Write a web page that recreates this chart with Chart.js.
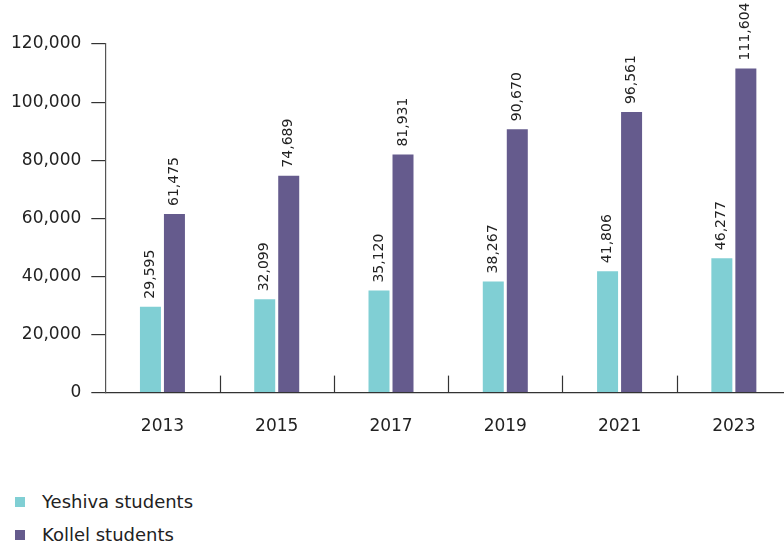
<!DOCTYPE html>
<html>
<head>
<meta charset="utf-8">
<script src="https://cdn.jsdelivr.net/npm/chart.js@4.4.1/dist/chart.umd.min.js"></script>
<style>
  html, body { margin: 0; padding: 0; background: #fff; overflow: hidden; }
  .wrap { position: relative; width: 800px; height: 453px; }
  .legend { position: absolute; left: 15px; top: 485px; font: 18px "DejaVu Sans", sans-serif; color: #222; }
  .legend div { display: flex; align-items: center; height: 33px; }
  .legend span.sw { width: 10px; height: 10px; margin-right: 17px; display: inline-block; }
</style>
</head>
<body>
<div class="wrap"><canvas id="c"></canvas></div>
<div class="legend" id="legend"></div>
<script>
// Students per survey year
const years = ['2013', '2015', '2017', '2019', '2021', '2023'];
const yeshiva = [29595, 32099, 35120, 38267, 41806, 46277];
const kollel = [61475, 74689, 81931, 90670, 96561, 111604];
const seriesNames = ['Yeshiva students', 'Kollel students'];
const seriesColors = ['#80cfd4', '#655b8d'];
const FONT = '"DejaVu Sans", sans-serif';
const fmt = (v) => v.toLocaleString('en-US');

// Rotated value labels above each bar
const valueLabels = {
  id: 'valueLabels',
  afterDatasetsDraw(chart) {
    const { ctx } = chart;
    chart.data.datasets.forEach((ds, i) => {
      chart.getDatasetMeta(i).data.forEach((bar, j) => {
        ctx.save();
        ctx.translate(bar.x, bar.y - 8);
        ctx.rotate(-Math.PI / 2);
        ctx.font = '14px ' + FONT;
        ctx.fillStyle = '#222';
        ctx.textAlign = 'left';
        ctx.textBaseline = 'middle';
        ctx.fillText(fmt(ds.data[j]), 0, 0);
        ctx.restore();
      });
    });
  },
};

// Short upward tick marks between categories
const boundaryTicks = {
  id: 'boundaryTicks',
  afterDraw(chart) {
    const { ctx } = chart;
    const x = chart.scales.x;
    const half = (x.getPixelForValue(1) - x.getPixelForValue(0)) / 2;
    ctx.save();
    ctx.strokeStyle = '#333';
    ctx.lineWidth = 1.2;
    for (let i = 0; i < years.length - 1; i++) {
      const px = Math.round(x.getPixelForValue(i) + half) + 0.5;
      ctx.beginPath();
      ctx.moveTo(px, x.top);
      ctx.lineTo(px, x.top - 17);
      ctx.stroke();
    }
    ctx.restore();
  },
};

new Chart(document.getElementById('c'), {
  type: 'bar',
  data: {
    labels: years,
    datasets: [
      { label: seriesNames[0], data: yeshiva, backgroundColor: seriesColors[0] },
      { label: seriesNames[1], data: kollel, backgroundColor: seriesColors[1] },
    ],
  },
  plugins: [valueLabels, boundaryTicks],
  options: {
    responsive: true,
    maintainAspectRatio: false,
    animation: false,
    categoryPercentage: 0.42,
    barPercentage: 0.875,
    layout: { padding: { top: 44, left: 1, right: 9, bottom: 0 } },
    plugins: { legend: { display: false }, tooltip: { enabled: false } },
    scales: {
      x: {
        grid: { display: false },
        border: { display: true, color: '#333', width: 1.2 },
        ticks: { color: '#222', font: { family: FONT, size: 17 }, padding: 16 },
      },
      y: {
        min: 0,
        max: 120000,
        ticks: {
          stepSize: 20000,
          color: '#222',
          font: { family: FONT, size: 17 },
          padding: 10,
          callback: (v) => fmt(v),
        },
        grid: { drawOnChartArea: false, tickLength: 14, color: '#333', lineWidth: 1.2 },
        border: { display: true, color: '#555', width: 1.2 },
      },
    },
  },
});

// Legend below the chart
const legend = document.getElementById('legend');
seriesNames.forEach((name, i) => {
  const row = document.createElement('div');
  const sw = document.createElement('span');
  sw.className = 'sw';
  sw.style.background = seriesColors[i];
  row.appendChild(sw);
  row.appendChild(document.createTextNode(name));
  legend.appendChild(row);
});
</script>
</body>
</html>
